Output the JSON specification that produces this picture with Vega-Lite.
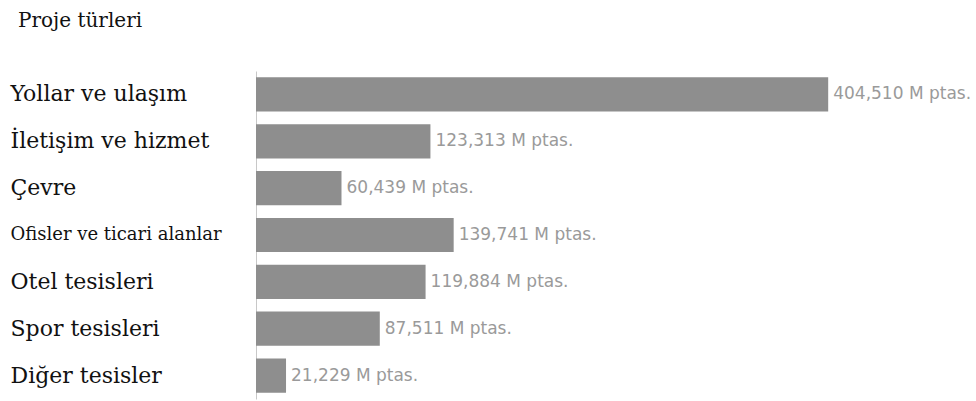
{
  "$schema": "https://vega.github.io/schema/vega-lite/v6.json",
  "width": 720,
  "height": 328,
  "padding": {"left": 256, "top": 71, "right": 0, "bottom": 2},
  "autosize": {"type": "none"},
  "background": "white",
  "title": {
    "text": "Proje türleri",
    "anchor": "start",
    "frame": "group",
    "dx": -238,
    "offset": 24,
    "baseline": "alphabetic",
    "font": "DejaVu Serif",
    "fontSize": 20,
    "fontWeight": "normal",
    "color": "#111"
  },
  "data": {
    "values": [
      {"tur": "Yollar ve ulaşım", "deger": 404510, "etiket": "404,510 M ptas."},
      {"tur": "İletişim ve hizmet", "deger": 123313, "etiket": "123,313 M ptas."},
      {"tur": "Çevre", "deger": 60439, "etiket": "60,439 M ptas."},
      {"tur": "Ofisler ve ticari alanlar", "deger": 139741, "etiket": "139,741 M ptas."},
      {"tur": "Otel tesisleri", "deger": 119884, "etiket": "119,884 M ptas."},
      {"tur": "Spor tesisleri", "deger": 87511, "etiket": "87,511 M ptas."},
      {"tur": "Diğer tesisler", "deger": 21229, "etiket": "21,229 M ptas."}
    ]
  },
  "encoding": {
    "y": {
      "field": "tur",
      "type": "nominal",
      "sort": null,
      "scale": {"paddingInner": 0.27, "paddingOuter": 0.135},
      "axis": {
        "title": null,
        "ticks": false,
        "domain": true,
        "domainColor": "#c8c8c8",
        "domainWidth": 1,
        "labelAlign": "left",
        "labelPadding": 246,
        "labelBaseline": "middle",
        "labelFont": "DejaVu Serif",
        "labelFontSize": {"expr": "datum.value == 'Ofisler ve ticari alanlar' ? 18 : 22"},
        "labelColor": "#111",
        "labelLimit": 0
      }
    },
    "x": {
      "field": "deger",
      "type": "quantitative",
      "scale": {"domain": [0, 509000], "nice": false, "zero": true},
      "axis": null
    }
  },
  "layer": [
    {"mark": {"type": "bar", "color": "#8e8e8e"}},
    {
      "mark": {
        "type": "text",
        "align": "left",
        "baseline": "middle",
        "dx": 5,
        "font": "DejaVu Sans",
        "fontSize": 17,
        "color": "#9a9a9a"
      },
      "encoding": {"text": {"field": "etiket"}}
    }
  ],
  "config": {"view": {"stroke": null}}
}
